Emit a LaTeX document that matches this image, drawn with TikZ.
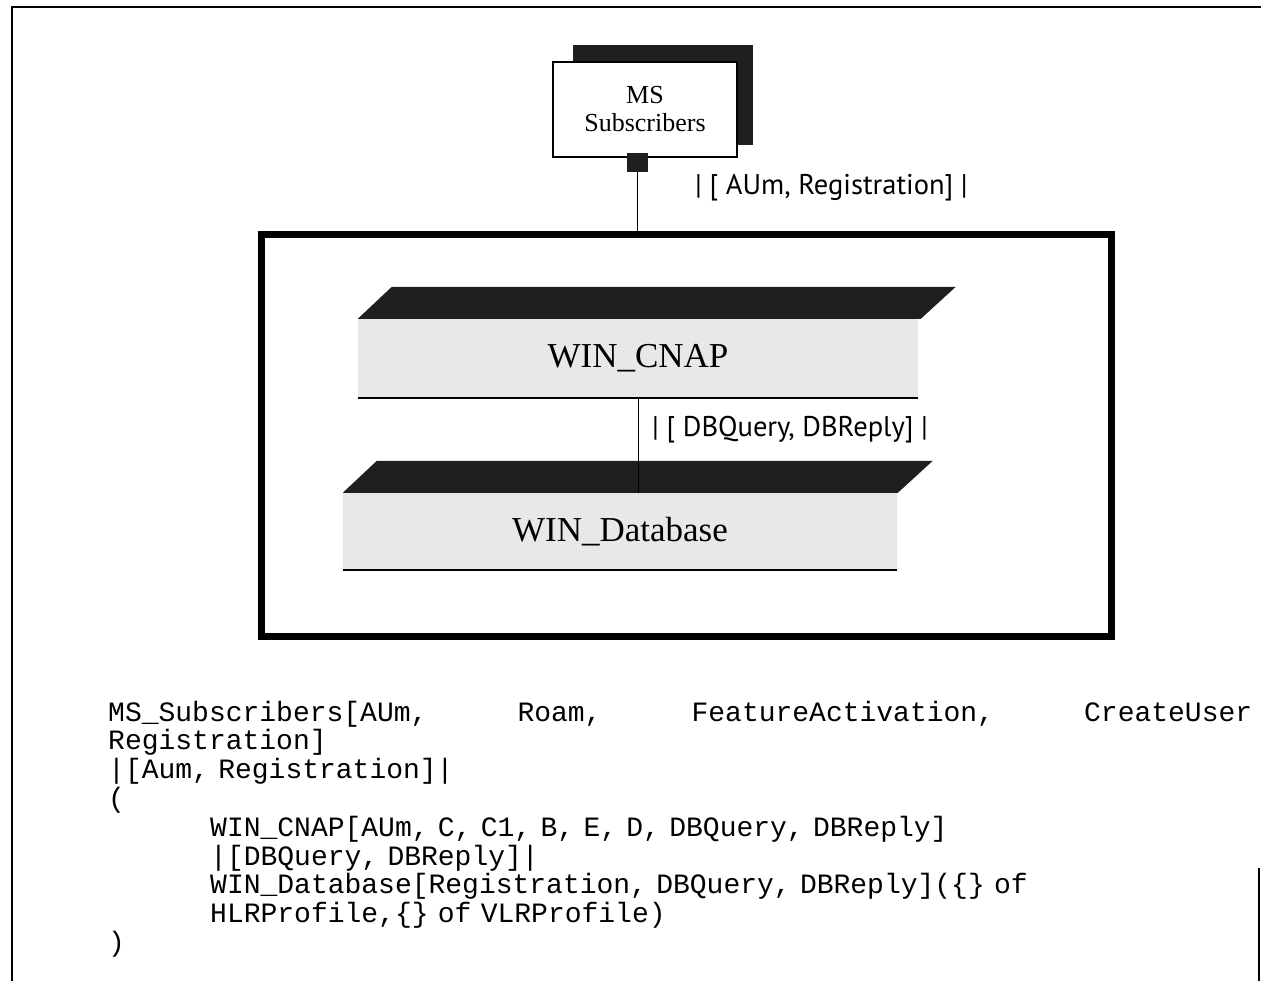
\documentclass[tikz,border=0pt]{standalone}
\usepackage{fontspec}
\setmainfont{Liberation Serif}
\setmonofont{Liberation Mono}
\newfontfamily\gatefont{PT Sans}
\usetikzlibrary{positioning}

\definecolor{slabgray}{gray}{0.91}
\definecolor{slabdark}{gray}{0.12}

\tikzset{
  slab/.style={fill=slabgray, inner sep=0pt, font=\fontsize{35}{35}\selectfont},
  slabtop/.style={fill=slabdark},
  gate/.style={anchor=west, inner sep=0pt, font=\gatefont\fontsize{28.5}{28.5}\selectfont},
}

\begin{document}
\begin{tikzpicture}[x=1pt,y=-1pt]
        \useasboundingbox (0,0) rectangle (1261,981);
        % page frame
        \draw[line width=2.5pt] (12,981) -- (12,7) -- (1261,7);
        \draw[line width=2pt] (1259,868) -- (1259,981);
        % subscribers
        \fill[slabdark] (573,45) rectangle (753,145);
        \node[draw, fill=white, line width=1.2pt, minimum width=184pt, minimum height=95pt, align=center, font=\fontsize{26}{28}\selectfont] (ms) at (645,109.5) {MS\\Subscribers};
        \node[fill=slabdark, minimum width=21pt, minimum height=19pt, inner sep=0pt] (port) at (637.5,162.5) {};
        % system block
        \node[draw, line width=7pt, minimum width=850pt, minimum height=401pt] (sys) at (686,435.5) {};
        \draw[line width=1.5pt] (port) -- (port |- sys.north);
        \node[gate] (msgate) at (695,188) {| [ AUm, Registration] |};
        % processes
        \node[slab, minimum width=560pt, minimum height=79pt] (cnap) at (638,358.5) {WIN\_CNAP};
        \fill[slabtop] (cnap.north west) -- ++(34,-32) -- ++(564,0) -- ++(-35,32) -- cycle;
        \draw[line width=1.5pt] (cnap.south west) -- (cnap.south east);
        \node[slab, minimum width=554pt, minimum height=77pt] (db) at (620,531.5) {WIN\_Database};
        \fill[slabtop] (db.north west) -- ++(34,-32) -- ++(556,0) -- ++(-35,32) -- cycle;
        \draw[line width=1.5pt] (db.south west) -- (db.south east);
        \draw[line width=1pt] (cnap.south) -- (cnap.south |- db.north);
        \node[gate] (dbgate) at (652,430) {| [ DBQuery, DBReply] |};
        % specification
        \node[anchor=base west, text width=1144pt, align=left, inner sep=0pt, font=\ttfamily\fontsize{28}{28.8}\selectfont] (spec) at (108,721) {MS\_Subscribers[AUm,\hfill Roam,\hfill FeatureActivation,\hfill CreateUser\\
Registration]\\
|[Aum, Registration]|\\
(\\
\hspace*{102pt}WIN\_CNAP[AUm, C, C1, B, E, D, DBQuery, DBReply]\\
\hspace*{102pt}|[DBQuery, DBReply]|\\
\hspace*{102pt}WIN\_Database[Registration, DBQuery, DBReply](\{\} of\\
\hspace*{102pt}HLRProfile,\{\} of VLRProfile)\\
)};
\end{tikzpicture}
\end{document}
